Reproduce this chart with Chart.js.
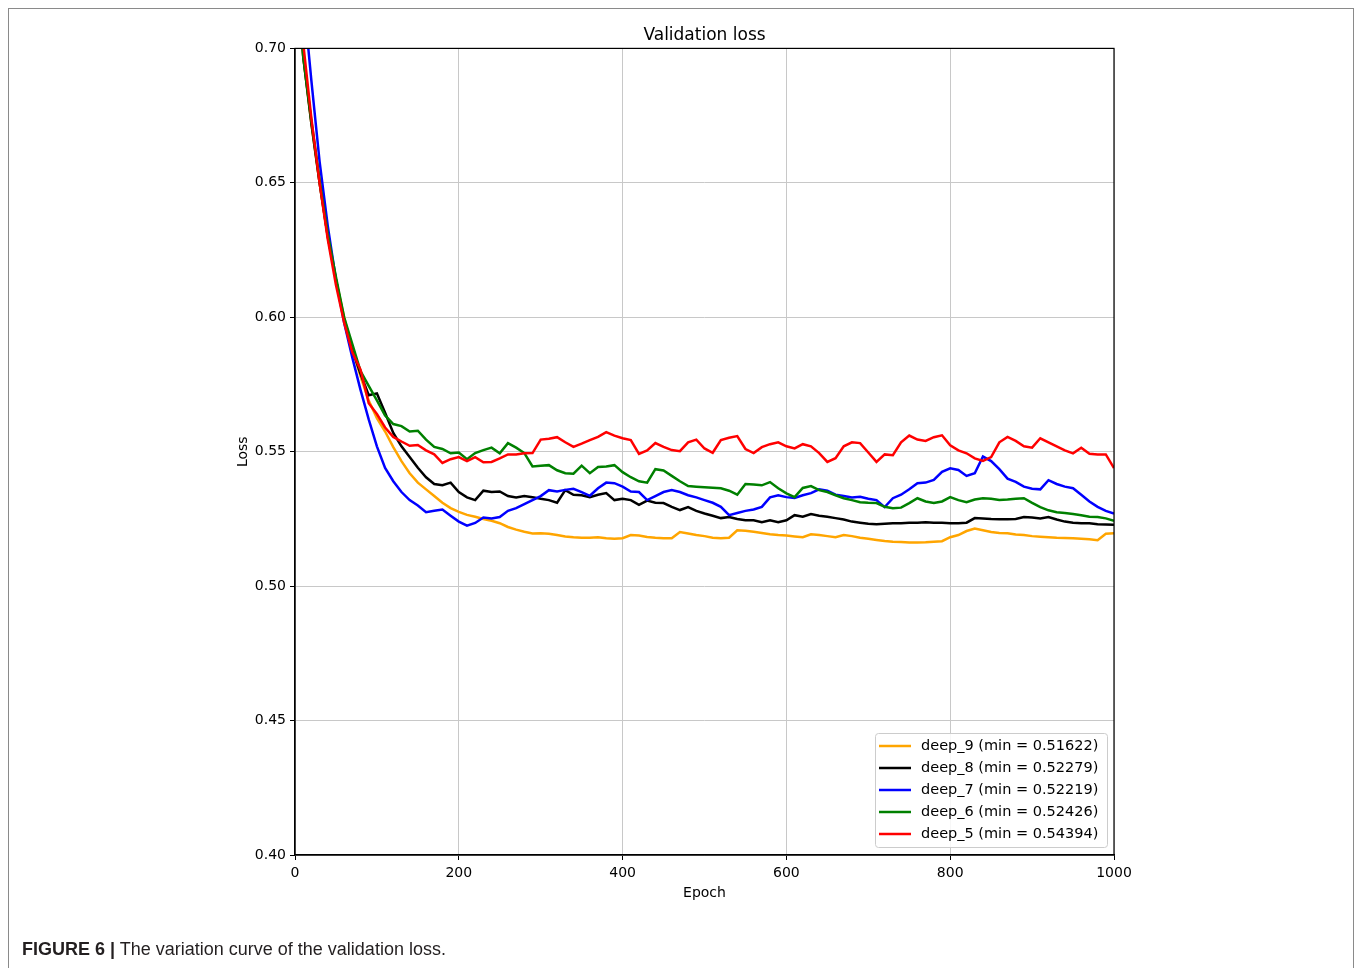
<!doctype html>
<html lang="en">

<head>
    <meta charset="UTF-8" />
    <title>Validation loss</title>
    <script src="https://cdn.jsdelivr.net/npm/chart.js"></script>
    <style>
        html, body { margin: 0; padding: 0; background: #fff; overflow: hidden; }
        .frame {
            position: absolute; left: 8px; top: 8px; width: 1346px; height: 1000px;
            border: 1px solid #8a8a8a; box-sizing: border-box;
        }
        .chart-wrap { position: absolute; left: 0; top: 0; width: 1360px; height: 968px; }
        .caption {
            position: absolute; left: 22px; top: 939px;
            font-family: "Liberation Sans", Arial, sans-serif; font-size: 18px; color: #231f20;
        }
        .caption b { font-weight: bold; }
    </style>
</head>

<body>
    <div class="frame"></div>
    <div class="chart-wrap"><canvas id="lossChart" width="1360" height="968"></canvas></div>
    <div class="caption"><b>FIGURE 6 |</b> The variation curve of the validation loss.</div>

    <script>
        // epochs sampled every 10
        const epochs = [
            0, 10, 20, 30, 40, 50, 60, 70, 80, 90,
            100, 110, 120, 130, 140, 150, 160, 170, 180, 190,
            200, 210, 220, 230, 240, 250, 260, 270, 280, 290,
            300, 310, 320, 330, 340, 350, 360, 370, 380, 390,
            400, 410, 420, 430, 440, 450, 460, 470, 480, 490,
            500, 510, 520, 530, 540, 550, 560, 570, 580, 590,
            600, 610, 620, 630, 640, 650, 660, 670, 680, 690,
            700, 710, 720, 730, 740, 750, 760, 770, 780, 790,
            800, 810, 820, 830, 840, 850, 860, 870, 880, 890,
            900, 910, 920, 930, 940, 950, 960, 970, 980, 990,
            1000
        ];

        const deep9 = [
            0.740, 0.697, 0.672, 0.650, 0.630, 0.614, 0.600, 0.588, 0.578, 0.569,
            0.5625, 0.5575, 0.5517, 0.5465, 0.542, 0.5385, 0.536, 0.5335, 0.531, 0.529,
            0.5276, 0.5265, 0.5258, 0.525, 0.5243, 0.5234, 0.522, 0.521, 0.5202, 0.5196,
            0.5197, 0.5195, 0.519, 0.5185, 0.5182, 0.518, 0.518, 0.5182, 0.5178, 0.5176,
            0.5178, 0.519, 0.5188, 0.5183, 0.518, 0.5178, 0.5178, 0.5201, 0.5196, 0.519,
            0.5186, 0.518, 0.5178, 0.518, 0.5208, 0.5206, 0.5202, 0.5198, 0.5193, 0.519,
            0.5188, 0.5185, 0.5182, 0.5193, 0.519, 0.5186, 0.5182, 0.519, 0.5186, 0.518,
            0.5176, 0.5172, 0.5168, 0.5165, 0.5164, 0.5162, 0.5162, 0.5163, 0.5165, 0.5167,
            0.5182, 0.519, 0.5205, 0.5214, 0.5208, 0.5201, 0.5198, 0.5197, 0.5192, 0.519,
            0.5186, 0.5184, 0.5182, 0.518, 0.5179, 0.5178, 0.5176, 0.5174, 0.5171, 0.5195,
            0.5197
        ];

        const deep8 = [
            0.740, 0.697, 0.672, 0.650, 0.630, 0.614, 0.599, 0.588, 0.579, 0.571,
            0.5717, 0.5645, 0.557, 0.552, 0.548, 0.544, 0.5405, 0.538, 0.5375, 0.5385,
            0.535, 0.533, 0.532, 0.5355, 0.535, 0.5352, 0.5335, 0.533, 0.5335, 0.5331,
            0.5325, 0.532, 0.531, 0.5357, 0.534, 0.5338, 0.5331, 0.534, 0.5346, 0.532,
            0.5325, 0.532, 0.5302, 0.5318, 0.531, 0.5309, 0.5295, 0.5283, 0.5294, 0.528,
            0.527, 0.5262, 0.5253, 0.5257, 0.525, 0.5245, 0.5245, 0.5238, 0.5245, 0.5238,
            0.5245, 0.5264, 0.5258, 0.5268, 0.5262, 0.5258, 0.5253, 0.5248, 0.524, 0.5236,
            0.5232, 0.523, 0.5232, 0.5234, 0.5234, 0.5236, 0.5236, 0.5238, 0.5236, 0.5236,
            0.5234, 0.5234, 0.5236, 0.5253, 0.5252, 0.525, 0.5249, 0.5249, 0.525, 0.5257,
            0.5255, 0.5252, 0.5257, 0.5248, 0.524, 0.5236, 0.5234, 0.5234, 0.523, 0.5229,
            0.5228
        ];

        const deep7 = [
            0.780, 0.720, 0.688, 0.658, 0.634, 0.614, 0.598, 0.585, 0.573, 0.562,
            0.552, 0.544, 0.539, 0.535, 0.532, 0.530, 0.5275, 0.528, 0.5285, 0.5262,
            0.524, 0.5225, 0.5235, 0.5255, 0.5252, 0.5257, 0.528, 0.529, 0.5305, 0.532,
            0.5335, 0.5357, 0.5352, 0.5358, 0.5362, 0.535, 0.5336, 0.5364, 0.5385, 0.5383,
            0.537, 0.5352, 0.535, 0.532, 0.5335, 0.535, 0.5357, 0.535, 0.5338, 0.533,
            0.532, 0.531, 0.5295, 0.5264, 0.5272, 0.528, 0.5285, 0.5295, 0.533, 0.5338,
            0.5331, 0.5328, 0.5338, 0.5346, 0.536, 0.5355, 0.534, 0.5335, 0.533, 0.5332,
            0.5325, 0.532, 0.5294, 0.5327, 0.534, 0.536, 0.5383, 0.5385, 0.5395, 0.5425,
            0.5438, 0.5432, 0.541, 0.542, 0.5482, 0.5465, 0.5435, 0.540, 0.5388, 0.537,
            0.5362, 0.536, 0.5394, 0.538, 0.537, 0.5364, 0.534, 0.5315, 0.5295, 0.528,
            0.527
        ];

        const deep6 = [
            0.740, 0.697, 0.673, 0.651, 0.631, 0.615, 0.600, 0.590, 0.580, 0.5745,
            0.5691, 0.5635, 0.5603, 0.5595, 0.5575, 0.5578, 0.5545, 0.5518, 0.551, 0.5494,
            0.5497, 0.5472, 0.5495, 0.5506, 0.5515, 0.5494, 0.5532, 0.5515, 0.5495, 0.5445,
            0.5448, 0.545, 0.5431, 0.542, 0.5418, 0.5448, 0.542, 0.5443, 0.5445, 0.545,
            0.5424, 0.5405, 0.539, 0.5385, 0.5435, 0.543, 0.541, 0.539, 0.5372, 0.537,
            0.5368, 0.5366, 0.5364, 0.5355, 0.534, 0.538, 0.5378, 0.5375, 0.5387, 0.5364,
            0.5345, 0.5331, 0.5365, 0.5372, 0.5357, 0.535, 0.5338, 0.5327, 0.532, 0.5312,
            0.531, 0.5309, 0.5295, 0.529, 0.5292, 0.5309, 0.5327, 0.5315, 0.5309, 0.5315,
            0.5331, 0.532, 0.5312, 0.5322, 0.5327, 0.5325, 0.532, 0.5322, 0.5325, 0.5327,
            0.531, 0.5294, 0.5282, 0.5275, 0.5272, 0.5268, 0.5264, 0.5258, 0.5257, 0.5252,
            0.5243
        ];

        const deep5 = [
            0.745, 0.702, 0.674, 0.650, 0.629, 0.612, 0.598, 0.587, 0.5805, 0.568,
            0.564, 0.559, 0.5555, 0.5538, 0.5522, 0.5525, 0.5505, 0.549, 0.5458, 0.5472,
            0.548, 0.5465, 0.548, 0.5461, 0.5462, 0.5475, 0.549, 0.549, 0.5494, 0.5495,
            0.5545, 0.5548, 0.5554, 0.5535, 0.5518, 0.553, 0.5543, 0.5555, 0.5573, 0.556,
            0.555, 0.5543, 0.5492, 0.5505, 0.5532, 0.5518, 0.5506, 0.5502, 0.5535, 0.5545,
            0.5512, 0.5496, 0.5543, 0.5552, 0.5558, 0.551, 0.5495, 0.5517, 0.5528, 0.5535,
            0.552, 0.5512, 0.5528, 0.552, 0.5495, 0.5462, 0.5476, 0.552, 0.5535, 0.5532,
            0.5497, 0.5462, 0.549, 0.5487, 0.5535, 0.556, 0.5545, 0.554, 0.5554, 0.5561,
            0.5524, 0.5505, 0.5494, 0.5475, 0.5466, 0.548, 0.5535, 0.5555, 0.554, 0.552,
            0.5515, 0.555, 0.5535, 0.552, 0.5505, 0.5494, 0.5515, 0.5492, 0.549, 0.549,
            0.5439
        ];

        const seriesNames = [
            "deep_9 (min = 0.51622)",
            "deep_8 (min = 0.52279)",
            "deep_7 (min = 0.52219)",
            "deep_6 (min = 0.52426)",
            "deep_5 (min = 0.54394)"
        ];
        const seriesColors = ["#ffa500", "#000000", "#0000ff", "#008000", "#ff0000"];
        const seriesValues = [deep9, deep8, deep7, deep6, deep5];
        const yTicks = [0.40, 0.45, 0.50, 0.55, 0.60, 0.65, 0.70];
        const xTicks = [0, 200, 400, 600, 800, 1000];

        const FONT = "'DejaVu Sans', sans-serif";

        // box around plot + matplotlib style legend in lower right
        const framePlugin = {
            id: "frame",
            afterDatasetsDraw(chart) {
                const { ctx, chartArea: a } = chart;
                ctx.save();
                ctx.strokeStyle = "#000";
                ctx.lineWidth = 1.2;
                ctx.strokeRect(a.left, a.top, a.right - a.left, a.bottom - a.top);

                // legend
                const rowH = 22, w = 232, h = 114;
                const x0 = a.right - 7 - w, y0 = a.bottom - 8 - h;
                ctx.fillStyle = "rgba(255,255,255,0.85)";
                ctx.strokeStyle = "#cccccc";
                ctx.lineWidth = 1;
                ctx.beginPath();
                ctx.roundRect(x0 + 0.5, y0 + 0.5, w, h, 3);
                ctx.fill();
                ctx.stroke();
                ctx.font = "14.5px " + FONT;
                ctx.textBaseline = "middle";
                chart.data.datasets.forEach((ds, i) => {
                    const cy = y0 + 13 + i * rowH;
                    ctx.strokeStyle = ds.borderColor;
                    ctx.lineWidth = 2.5;
                    ctx.beginPath();
                    ctx.moveTo(x0 + 4, cy);
                    ctx.lineTo(x0 + 36, cy);
                    ctx.stroke();
                    ctx.fillStyle = "#000";
                    ctx.fillText(ds.label, x0 + 46, cy);
                });
                ctx.restore();
            }
        };

        const ctx = document.getElementById("lossChart").getContext("2d");
        new Chart(ctx, {
            type: "line",
            data: {
                datasets: seriesValues.map((vals, i) => ({
                    label: seriesNames[i],
                    data: epochs.map((e, j) => ({ x: e, y: vals[j] })),
                    borderColor: seriesColors[i],
                    borderWidth: 2.5,
                    pointRadius: 0,
                    tension: 0,
                    order: seriesValues.length - i
                }))
            },
            options: {
                responsive: false,
                animation: false,
                layout: { padding: { left: 235, right: 246, top: 21, bottom: 64 } },
                plugins: {
                    legend: { display: false },
                    tooltip: { enabled: false },
                    title: {
                        display: true,
                        text: "Validation loss",
                        fullSize: false,
                        color: "#000",
                        font: { family: FONT, size: 17, weight: "normal" },
                        padding: { top: 4, bottom: 3 }
                    }
                },
                scales: {
                    x: {
                        type: "linear",
                        min: 0,
                        max: 1000,
                        afterBuildTicks: (s) => { s.ticks = xTicks.map(v => ({ value: v })); },
                        afterFit: (s) => { s.height = 49; },
                        grid: { color: "#c8c8c8", lineWidth: 1, tickColor: "#000", tickLength: 5, drawTicks: true },
                        border: { color: "#000", width: 1.2 },
                        ticks: { color: "#000", font: { family: FONT, size: 14 }, padding: 5, maxRotation: 0, callback: (v) => String(v) },
                        title: { display: true, text: "Epoch", color: "#000", font: { family: FONT, size: 14 }, padding: { top: 0, bottom: 2 } }
                    },
                    y: {
                        min: 0.40,
                        max: 0.70,
                        afterBuildTicks: (s) => { s.ticks = yTicks.map(v => ({ value: v })); },
                        afterFit: (s) => { s.width = 60; },
                        grid: { color: "#c8c8c8", lineWidth: 1, tickColor: "#000", tickLength: 5, drawTicks: true },
                        border: { color: "#000", width: 1.2 },
                        ticks: { color: "#000", font: { family: FONT, size: 14 }, padding: 4, callback: (v) => v.toFixed(2) },
                        title: { display: true, text: "Loss", color: "#000", font: { family: FONT, size: 14 }, padding: 0 }
                    }
                }
            },
            plugins: [framePlugin]
        });
    </script>
</body>

</html>
